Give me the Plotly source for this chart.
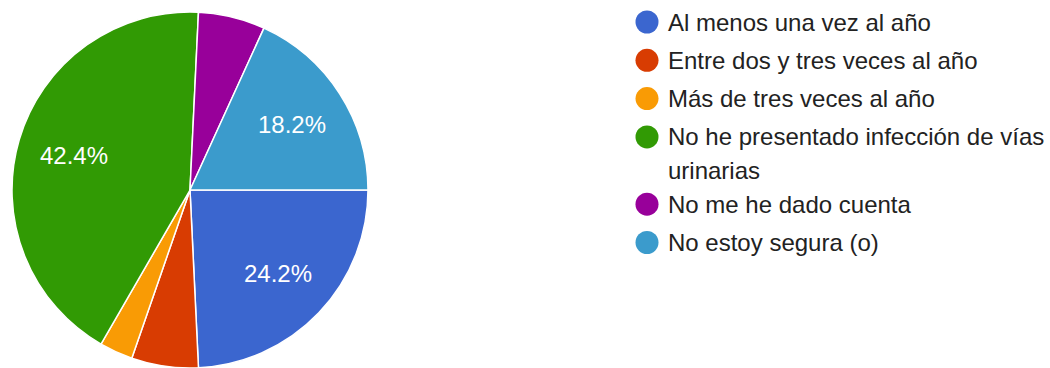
import math
import plotly.graph_objects as go

# Survey answers (counts of respondents per option)
categories = [
    "Al menos una vez al año",
    "Entre dos y tres veces al año",
    "Más de tres veces al año",
    "No he presentado infección de vías<br>urinarias",
    "No me he dado cuenta",
    "No estoy segura (o)",
]
counts = [8, 2, 1, 14, 2, 6]
colors = ["#3b66cf", "#d83c02", "#f99b05", "#319a04", "#98009a", "#3b9bcc"]

W, H = 1050, 368
FONT = "Liberation Sans, Arial, sans-serif"
FS = 24

# pie geometry in pixels: centre (CX, CY), radius R
CX, CY, R = 190, 190, 178
LABEL_R = 0.68 * R

total = sum(counts)

fig = go.Figure()

fig.add_trace(go.Pie(
    labels=[c.replace("<br>", " ") for c in categories],
    values=counts,
    sort=False,
    direction="clockwise",
    rotation=90,
    marker=dict(colors=colors, line=dict(color="white", width=1.5)),
    textinfo="none",
    domain=dict(x=[(CX - R) / W, (CX + R) / W], y=[(H - CY - R) / H, (H - CY + R) / H]),
    showlegend=False,
    hoverinfo="label+percent",
))

annotations = []

# percentage labels on slices of 10% or more, placed along each slice's mid-angle
start = 0.0
for c in counts:
    frac = c / total
    mid = 2 * math.pi * (start + frac / 2)  # clockwise from 3 o'clock
    if frac >= 0.1:
        annotations.append(dict(
            x=CX + LABEL_R * math.cos(mid), y=CY + LABEL_R * math.sin(mid),
            xref="x", yref="y", text=f"{frac * 100:.1f}%", showarrow=False,
            xanchor="center", yanchor="middle",
            font=dict(family=FONT, size=FS, color="white"),
        ))
    start += frac

# legend rows laid out in pixel units on hidden axes
ROW_TOP, ROW_STEP, WRAP_STEP, WRAP_LINE = 22.0, 38.3, 29.0, 34.0
DOT_X, TEXT_X = 647, 666
row_y = []
y = ROW_TOP
for lab in categories:
    row_y.append(y)
    y += ROW_STEP + lab.count("<br>") * WRAP_STEP

fig.add_trace(go.Scatter(
    x=[DOT_X] * len(categories),
    y=row_y,
    mode="markers",
    marker=dict(size=23, color=colors, line=dict(width=0)),
    hovertext=[c.replace("<br>", " ") for c in categories],
    hoverinfo="text",
    showlegend=False,
))

for lab, yy in zip(categories, row_y):
    for k, line in enumerate(lab.split("<br>")):
        annotations.append(dict(
            x=TEXT_X, y=yy + k * WRAP_LINE,
            xref="x", yref="y",
            text=line, showarrow=False,
            xanchor="left", yanchor="middle", align="left",
            font=dict(family=FONT, size=FS, color="#222222"),
        ))

fig.update_layout(
    width=W, height=H,
    margin=dict(l=0, r=0, t=0, b=0),
    paper_bgcolor="white",
    plot_bgcolor="rgba(0,0,0,0)",
    xaxis=dict(range=[0, W], visible=False, fixedrange=True, domain=[0, 1]),
    yaxis=dict(range=[H, 0], visible=False, fixedrange=True, domain=[0, 1]),
    annotations=annotations,
    font=dict(family=FONT),
)

fig.write_html("out.html", config={"displayModeBar": False})
